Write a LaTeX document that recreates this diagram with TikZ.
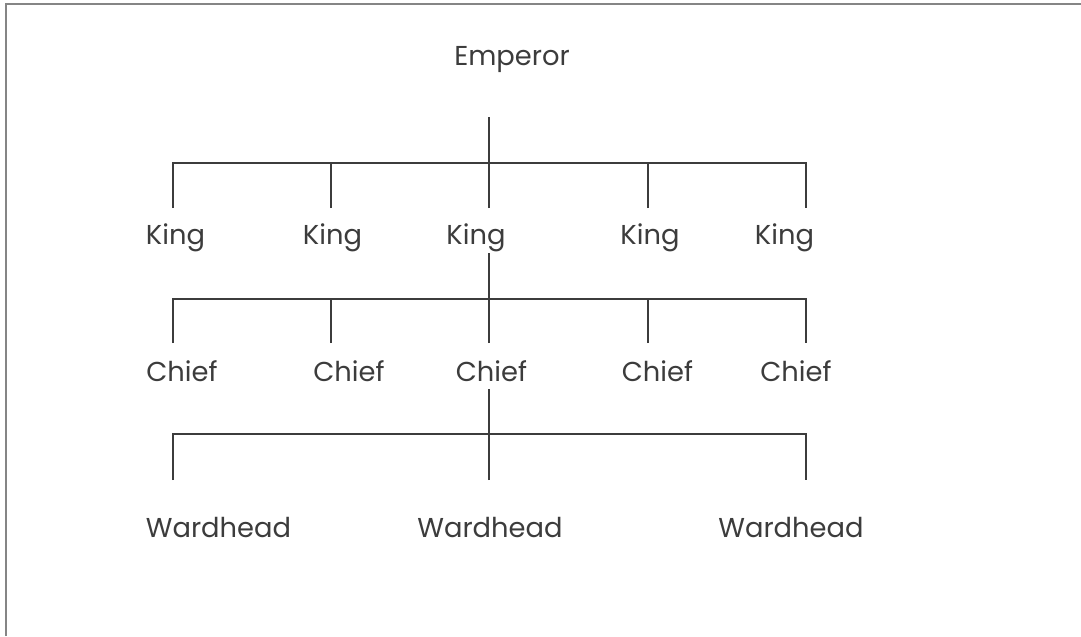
\documentclass[tikz,border=0pt]{standalone}
\usepackage{fontspec}
\setmainfont{Poppins}
\usepackage{tikz}
\usetikzlibrary{positioning}

\definecolor{inkgray}{HTML}{3C3C3C}
\definecolor{framegray}{HTML}{858585}

\begin{document}
\begin{tikzpicture}[x=0.75pt, y=-0.75pt,
    rank/.style={anchor=base, text=inkgray, font=\fontsize{20.5}{24}\selectfont, inner sep=0pt},
    link/.style={draw=inkgray, line width=1.3pt}]
    \useasboundingbox (0,0) rectangle (1081,636);
    \draw[framegray, line width=1.5pt] (6,636) -- (6,4) -- (1081,4);

    % ranks
    \node[rank] (emp) at (512,65) {Emperor};
    \node[rank] (k1) at (175.5,244) {King};
    \node[rank] (k2) at (332.5,244) {King};
    \node[rank] (k3) at (476,244)   {King};
    \node[rank] (k4) at (650,244)   {King};
    \node[rank] (k5) at (784.5,244) {King};
    \node[rank] (c1) at (182,381)   {Chief};
    \node[rank] (c2) at (349,381)   {Chief};
    \node[rank] (c3) at (491.5,381) {Chief};
    \node[rank] (c4) at (657.5,381) {Chief};
    \node[rank] (c5) at (796,381)   {Chief};
    \node[rank] (w1) at (218.5,537) {Wardhead};
    \node[rank] (w2) at (490,537)   {Wardhead};
    \node[rank] (w3) at (791,537)   {Wardhead};

    % line ends
    \coordinate (emp-stem) at (489,117);
    \coordinate (emp-bar)  at (489,163);
    \coordinate (k3-stem)  at (489,253);
    \coordinate (k-bar)    at (489,299);
    \coordinate (c3-stem)  at (489,389);
    \coordinate (c-bar)    at (489,434);
    \foreach \n/\x in {k1/173, k2/331, k3/489, k4/648, k5/806}
        \coordinate (\n-top) at (\x,208);
    \foreach \n/\x in {c1/173, c2/331, c3/489, c4/648, c5/806}
        \coordinate (\n-top) at (\x,343);
    \foreach \n/\x in {w1/173, w2/489, w3/806}
        \coordinate (\n-top) at (\x,480);

    % emperor to kings
    \draw[link] (emp-stem) -- (emp-bar);
    \draw[link] (k1-top) -- (k1-top |- emp-bar) -- (k5-top |- emp-bar) -- (k5-top);
    \foreach \n in {k2, k3, k4}
        \draw[link] (\n-top) -- (\n-top |- emp-bar);

    % king to chiefs
    \draw[link] (k3-stem) -- (k-bar);
    \draw[link] (c1-top) -- (c1-top |- k-bar) -- (c5-top |- k-bar) -- (c5-top);
    \foreach \n in {c2, c3, c4}
        \draw[link] (\n-top) -- (\n-top |- k-bar);

    % chief to wardheads
    \draw[link] (c3-stem) -- (c-bar);
    \draw[link] (w1-top) -- (w1-top |- c-bar) -- (w3-top |- c-bar) -- (w3-top);
    \draw[link] (w2-top) -- (w2-top |- c-bar);

\end{tikzpicture}
\end{document}
